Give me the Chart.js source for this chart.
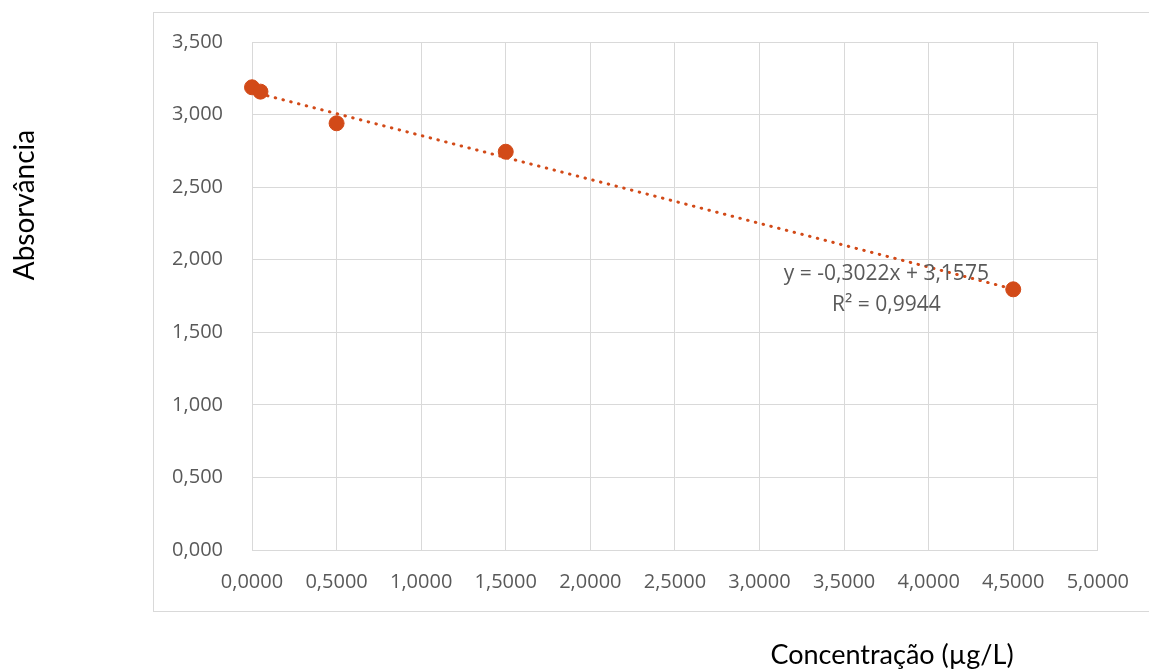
<!DOCTYPE html>
<html>
<head>
<meta charset="utf-8">
<script src="https://cdn.jsdelivr.net/npm/chart.js@4.4.1/dist/chart.umd.min.js"></script>
<style>
  html, body { margin: 0; padding: 0; background: #fff; }
  #wrap { width: 1149px; height: 671px; position: relative; }
</style>
</head>
<body>
<div id="wrap"><canvas id="calChart" width="1149" height="671"></canvas></div>
<script>
// concentration (µg/L) vs absorbance
const concentracao = [0.0, 0.05, 0.5, 1.5, 4.5];
const absorvancia = [3.188, 3.158, 2.94, 2.744, 1.796];

// linear trendline as shown on the chart
const trendSlope = -0.3022;
const trendIntercept = 3.1575;
const trendLabel = ["y = -0,3022x + 3,1575", "R² = 0,9944"];

const xTitle = "Concentração (µg/L)";
const yTitle = "Absorvância";

const orange = "#D24A18";
const gridGrey = "#d9d9d9";
const textGrey = "#595959";

const trendPoints = [
  { x: Math.min(...concentracao), y: trendSlope * Math.min(...concentracao) + trendIntercept },
  { x: Math.max(...concentracao), y: trendSlope * Math.max(...concentracao) + trendIntercept }
];

const decorations = {
  id: "decorations",
  beforeDraw(chart) {
    const ctx = chart.ctx;
    ctx.save();
    ctx.strokeStyle = gridGrey;
    ctx.lineWidth = 1;
    ctx.strokeRect(153.5, 12.5, 1100, 599);
    ctx.restore();
  },
  afterDraw(chart) {
    const ctx = chart.ctx;
    const xs = chart.scales.x, ys = chart.scales.y;
    ctx.save();
    // trendline equation
    ctx.fillStyle = textGrey;
    ctx.font = "21px 'Open Sans'";
    ctx.textAlign = "center";
    ctx.textBaseline = "middle";
    const lx = xs.getPixelForValue(3.75);
    const ly = ys.getPixelForValue(1.9);
    ctx.fillText(trendLabel[0], lx, ly);
    ctx.fillText(trendLabel[1], lx, ly + 31);
    // axis titles
    ctx.fillStyle = "#000";
    ctx.font = "27px Lato";
    ctx.fillText(xTitle, 892, 655);
    ctx.font = "28px Lato";
    ctx.translate(25, 205);
    ctx.rotate(-Math.PI / 2);
    ctx.fillText(yTitle, 0, 0);
    ctx.restore();
  }
};

new Chart(document.getElementById("calChart"), {
  type: "scatter",
  data: {
    datasets: [
      {
        label: "Absorvância",
        data: concentracao.map((c, i) => ({ x: c, y: absorvancia[i] })),
        backgroundColor: orange,
        borderColor: orange,
        pointRadius: 7.5,
        pointHoverRadius: 7.5,
        clip: false,
        order: 1
      },
      {
        label: "Linear",
        type: "line",
        data: trendPoints,
        borderColor: orange,
        borderWidth: 3,
        borderDash: [0.5, 7.5],
        borderCapStyle: "round",
        pointRadius: 0,
        fill: false,
        order: 2
      }
    ]
  },
  options: {
    responsive: false,
    animation: false,
    layout: { padding: { top: 42, right: 51, left: 0, bottom: 0 } },
    plugins: { legend: { display: false }, tooltip: { enabled: false } },
    scales: {
      x: {
        type: "linear",
        min: 0,
        max: 5,
        afterFit(scale) { scale.height = 121; },
        ticks: {
          stepSize: 0.5,
          padding: 20,
          color: textGrey,
          font: { family: "Open Sans", size: 20 },
          maxRotation: 0,
          callback: v => v.toFixed(4).replace(".", ",")
        },
        grid: { color: gridGrey, lineWidth: 1, drawTicks: false },
        border: { color: gridGrey }
      },
      y: {
        type: "linear",
        min: 0,
        max: 3.5,
        afterFit(scale) { scale.width = 252; },
        ticks: {
          stepSize: 0.5,
          padding: 29,
          color: textGrey,
          font: { family: "Open Sans", size: 20 },
          callback: v => v.toFixed(3).replace(".", ",")
        },
        grid: { color: gridGrey, lineWidth: 1, drawTicks: false },
        border: { color: gridGrey }
      }
    }
  },
  plugins: [decorations]
});
</script>
</body>
</html>
